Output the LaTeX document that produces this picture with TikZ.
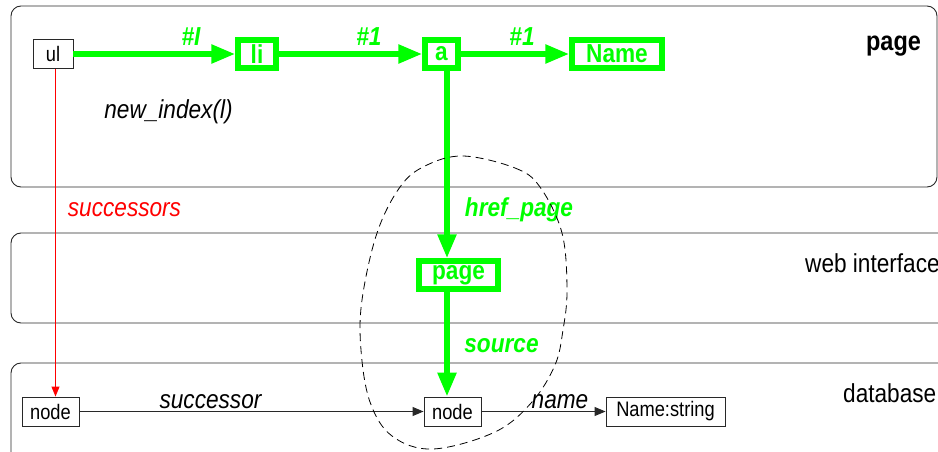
\documentclass[tikz,border=0pt]{standalone}
\usepackage{fontspec}
\setmainfont{Liberation Sans}[FakeStretch=0.87]
\usetikzlibrary{arrows.meta}
\definecolor{linkgreen}{RGB}{0,255,0}
\definecolor{linkred}{RGB}{255,0,0}
\definecolor{framegray}{RGB}{40,40,40}

\begin{document}
\begin{tikzpicture}[x=1pt,y=-1pt,
  layerbox/.style={draw=framegray,line width=0.9pt,rounded corners=10pt},
  plainbox/.style={draw=framegray,line width=0.9pt,inner sep=0pt,minimum height=29pt,
    font=\fontsize{21pt}{24pt}\selectfont},
  greenbox/.style={draw=linkgreen,line width=5.5pt,inner sep=0pt,minimum height=28pt,
    text=linkgreen,font=\fontsize{26pt}{30pt}\selectfont\bfseries},
  greenarrow/.style={draw=linkgreen,line width=5.5pt,
    -{Triangle[length=24pt,width=18pt]}},
  thinarrow/.style={draw=framegray,line width=0.9pt,
    -{Triangle[length=11pt,width=9pt]}},
  redarrow/.style={draw=linkred,line width=0.9pt,
    -{Triangle[length=10pt,width=8pt]}},
  linklabel/.style={text=linkgreen,font=\fontsize{26pt}{30pt}\selectfont\bfseries\itshape,
    anchor=base,inner sep=0pt},
  itlabel/.style={font=\fontsize{26pt}{30pt}\selectfont\itshape,anchor=base,inner sep=0pt},
  layerlabel/.style={font=\fontsize{26pt}{30pt}\selectfont,inner sep=0pt},
  region/.style={draw=black,line width=0.8pt,dash pattern=on 8pt off 5pt}
]
\useasboundingbox (0,0) rectangle (938,452);
\clip (0,0) rectangle (938,452);

% layers
\draw[layerbox] (11,6) rectangle (937,187);
\draw[layerbox] (11,233) rectangle (970,323);
\draw[layerbox] (11,363) rectangle (970,480);

\node[layerlabel,anchor=base,font=\fontsize{27pt}{31pt}\selectfont\bfseries] (lpage) at (893.5,51) {page};
\node[layerlabel,anchor=base west] (lweb) at (805,272) {web interface};
\node[layerlabel,anchor=base west] (ldb) at (843,402) {database};

% page layer
\node[plainbox,minimum width=40pt] (ul) at (53,54) {ul};
\node[greenbox,minimum width=38pt] (li) at (257,54) {li};
\node[greenbox,minimum width=33pt] (a) at (441.5,54) {a};
\node[greenbox,minimum width=90pt] (Name) at (617,54) {Name};
\node[itlabel] (newidx) at (168.5,118) {new\_index(l)};

% web interface layer
\node[greenbox,minimum width=79pt] (page) at (458.5,275) {page};

% database layer
\node[plainbox,minimum width=57pt] (nodeL) at (50.5,411.5) {node};
\node[plainbox,minimum width=57pt] (nodeM) at (452.5,411.5) {node};
\node[plainbox,minimum width=119pt] (namestr) at (665.5,411.5) {Name:string};

% columns of the vertical connectors
\coordinate (gx) at (447,0);
\coordinate (rx) at (55.5,0);

% connectors
\draw[greenarrow] (ul) -- (li);
\draw[greenarrow] (li) -- (a);
\draw[greenarrow] (a) -- (Name);
\draw[greenarrow] (a.south -| gx) -- (page.north -| gx);
\draw[greenarrow] (page.south -| gx) -- (nodeM.north -| gx);
\draw[redarrow] (ul.south -| rx) -- (nodeL.north -| rx);
\draw[thinarrow] (nodeL) -- (nodeM);
\draw[thinarrow] (nodeM) -- (namestr);

% connector labels
\node[linklabel] (l1) at (191,46) {\#I};
\node[linklabel] (l2) at (369,46) {\#1};
\node[linklabel] (l3) at (522,46) {\#1};
\node[linklabel] (lhref) at (519,216) {href\_page};
\node[linklabel] (lsrc) at (501.5,352) {source};
\node[itlabel,text=linkred] (lsucc) at (124.5,216) {successors};
\node[itlabel] (lsuc) at (210.5,408) {successor};
\node[itlabel] (lname) at (560,408) {name};

% region around the page/node pair
\draw[region] plot[smooth cycle,tension=0.6] coordinates {
  (463,156) (515,168) (540,187) (562,233) (567,290) (563,330) (555,365)
  (532,402) (495,432) (433,449) (392,436) (370,402) (361,350) (362,300)
  (377,233) (400,187) (425,166)};
\end{tikzpicture}
\end{document}
